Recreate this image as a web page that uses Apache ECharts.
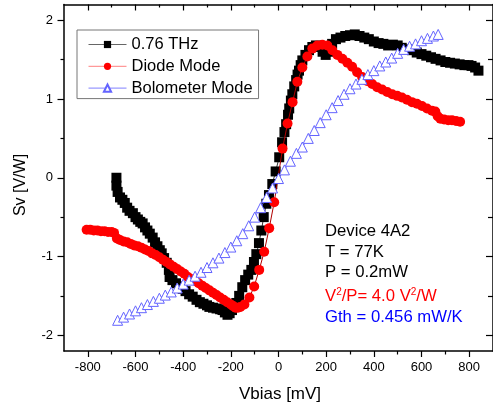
<!DOCTYPE html>
<html><head><meta charset="utf-8">
<script src="https://cdn.jsdelivr.net/npm/echarts@6/dist/echarts.min.js"></script>
<style>html,body{margin:0;padding:0;background:#fff}#c{width:493px;height:409px}</style>
</head><body><div id="c"></div>
<script>
const thzX = [-680,-680,-675,-665,-655,-645,-635,-625,-611,-600,-590,-580,-570,-560,-550,-540,-528,-518,-508,-498,-490,-480,-469,-460,-457,-445,-430,-415,-402,-390,-375,-360,-344,-330,-315,-300,-290,-275,-260,-245,-235,-225,-214,-205,-195,-185,-177,-165,-152,-140,-127,-114,-103,-93,-82,-72,-62,-51,-40,-26,-12,3,15,25,32,40,45,52,58,66,74,80,86,93,100,113,128,142,157,170,185,198,210,225,241,260,280,300,320,340,360,379,400,420,440,460,480,500,517,540,560,580,600,620,640,659,680,700,720,740,760,780,797,810,825,839];
const thzY = [0.00,-0.10,-0.18,-0.25,-0.28,-0.32,-0.38,-0.42,-0.45,-0.50,-0.53,-0.56,-0.58,-0.63,-0.67,-0.71,-0.76,-0.82,-0.87,-0.92,-0.96,-1.02,-1.08,-1.17,-1.26,-1.30,-1.34,-1.38,-1.41,-1.44,-1.48,-1.51,-1.55,-1.58,-1.60,-1.62,-1.64,-1.65,-1.66,-1.67,-1.68,-1.71,-1.74,-1.72,-1.68,-1.63,-1.59,-1.50,-1.39,-1.30,-1.23,-1.17,-1.07,-0.97,-0.83,-0.67,-0.50,-0.33,-0.22,-0.08,0.08,0.26,0.45,0.58,0.68,0.80,0.88,0.98,1.06,1.16,1.24,1.31,1.36,1.43,1.49,1.56,1.62,1.66,1.68,1.66,1.60,1.56,1.60,1.70,1.76,1.78,1.80,1.81,1.82,1.80,1.78,1.76,1.73,1.71,1.70,1.68,1.69,1.68,1.65,1.63,1.62,1.59,1.57,1.55,1.53,1.51,1.49,1.47,1.46,1.45,1.44,1.43,1.43,1.42,1.40,1.36];

const diodeX = [-805,-790,-775,-760,-745,-730,-715,-700,-690,-678,-665,-650,-635,-620,-605,-590,-575,-560,-545,-530,-515,-500,-485,-470,-455,-440,-425,-410,-395,-380,-365,-350,-335,-320,-305,-290,-275,-260,-245,-230,-215,-200,-190,-180,-170,-160,-143,-122,-102,-81,-60,-39,-18,17,38,59,79,100,121,142,163,184,205,226,247,268,289,309,330,351,372,393,414,435,456,477,498,518,539,560,581,602,623,644,658,668,679,695,712,728,745,762];
const diodeY = [-0.66,-0.66,-0.67,-0.67,-0.68,-0.68,-0.69,-0.69,-0.70,-0.77,-0.79,-0.81,-0.82,-0.84,-0.86,-0.87,-0.89,-0.91,-0.93,-0.96,-0.98,-1.01,-1.04,-1.07,-1.10,-1.13,-1.16,-1.19,-1.22,-1.26,-1.29,-1.31,-1.34,-1.37,-1.40,-1.43,-1.46,-1.49,-1.52,-1.55,-1.58,-1.61,-1.63,-1.65,-1.65,-1.64,-1.61,-1.52,-1.38,-1.17,-0.94,-0.64,-0.31,0.37,0.69,0.96,1.22,1.40,1.54,1.64,1.68,1.69,1.68,1.62,1.56,1.51,1.46,1.41,1.34,1.28,1.23,1.19,1.15,1.12,1.09,1.06,1.04,1.02,0.99,0.96,0.94,0.91,0.88,0.85,0.84,0.78,0.75,0.74,0.73,0.73,0.72,0.71];

const boloX = [-675,-650,-625,-600,-575,-550,-525,-500,-475,-450,-425,-400,-375,-350,-325,-300,-275,-250,-225,-200,-175,-150,-125,-100,-75,-50,-25,0,25,50,75,100,125,150,175,200,225,250,275,300,325,350,375,400,425,450,475,500,525,550,575,600,625,650,670];
const boloY = [-1.81,-1.77,-1.73,-1.69,-1.65,-1.61,-1.57,-1.53,-1.49,-1.45,-1.40,-1.35,-1.30,-1.25,-1.20,-1.14,-1.08,-1.02,-0.95,-0.88,-0.80,-0.71,-0.61,-0.50,-0.38,-0.25,-0.13,-0.01,0.10,0.21,0.31,0.39,0.50,0.60,0.70,0.80,0.89,0.98,1.06,1.13,1.19,1.25,1.31,1.36,1.42,1.47,1.52,1.58,1.63,1.67,1.70,1.74,1.77,1.80,1.82];

const xMajor = [-800,-600,-400,-200,0,200,400,600,800];
const xMinor = [-700,-500,-300,-100,100,300,500,700];
const yMajor = [-2,-1,0,1,2];
const yMinor = [-1.5,-0.5,0.5,1.5];
const seriesNames = ['0.76 THz','Diode Mode','Bolometer Mode'];

const FONT = "'Liberation Sans', Arial, sans-serif";
const zip = (a,b) => a.map((v,i)=>[v,b[i]]);

function xAx(pos, vals, len, inside, line, labels){
  return {type:'value', min:-900, max:900, position:pos, gridIndex:0,
    axisLine:{show:line, onZero:false, lineStyle:{color:'#000', width:1.5}},
    axisTick:{show:true, inside:inside, length:len, customValues:vals, lineStyle:{color:'#000', width:1.2}},
    axisLabel:labels?{show:true, customValues:xMajor, margin:10, color:'#000', fontSize:13, fontFamily:FONT}:{show:false},
    splitLine:{show:false}};
}
function yAx(pos, vals, len, inside, line, labels){
  return {type:'value', min:-2.2, max:2.2, position:pos, gridIndex:0,
    axisLine:{show:line, onZero:false, lineStyle:{color:'#000', width:1.5}},
    axisTick:{show:true, inside:inside, length:len, customValues:vals, lineStyle:{color:'#000', width:1.2}},
    axisLabel:labels?{show:true, customValues:yMajor, margin:11, color:'#000', fontSize:13, fontFamily:FONT}:{show:false},
    splitLine:{show:false}};
}

const chart = echarts.init(document.getElementById('c'), null, {renderer:'canvas'});
chart.setOption({
  backgroundColor:'#fff',
  animation:false,
  grid:{left:64, top:4.5, width:431, height:346.5},
  xAxis:[xAx('bottom',xMajor,6,false,true,true), xAx('bottom',xMinor,3.5,false,false,false),
         xAx('top',xMajor,6,true,true,false), xAx('top',xMinor,3,true,false,false)],
  yAxis:[yAx('left',yMajor,6.5,false,true,true), yAx('left',yMinor,3.5,false,false,false),
         yAx('right',yMajor,7,true,true,false), yAx('right',yMinor,5,true,false,false)],
  legend:{
    left:77, top:30, orient:'vertical', borderColor:'#777', borderWidth:1,
    padding:[5.5,6,1.5,11], itemGap:3.8, itemWidth:38, itemHeight:9,
    textStyle:{fontSize:16.5, lineHeight:18, fontFamily:FONT, color:'#000'},
    data:[
      {name:seriesNames[0], lineStyle:{color:'#666', width:1}},
      {name:seriesNames[1], lineStyle:{color:'#ff8080', width:1}},
      {name:seriesNames[2], lineStyle:{color:'#8080ff', width:1}}
    ]
  },
  series:[
    {name:seriesNames[0], type:'line', data:zip(thzX,thzY), symbol:'rect', symbolSize:10, showAllSymbol:true,
     itemStyle:{color:'#000'}, lineStyle:{color:'#333', width:1}, z:2},
    {name:seriesNames[1], type:'line', data:zip(diodeX,diodeY), symbol:'circle', symbolSize:10, showAllSymbol:true,
     itemStyle:{color:'#ff0000'}, lineStyle:{color:'#b00000', width:1}, z:3},
    {name:seriesNames[2], type:'line', data:zip(boloX,boloY), symbol:'triangle', symbolSize:10, showAllSymbol:true,
     itemStyle:{color:'#fff', borderColor:'#6464ff', borderWidth:1}, lineStyle:{color:'#6464ff', width:0.8}, z:4}
  ],
  graphic:[
    {type:'text', x:21, y:185, rotation:Math.PI/2, style:{text:'Sv [V/W]', font:'16px '+FONT, fill:'#000', textAlign:'center', textVerticalAlign:'middle'}},
    {type:'text', x:280, y:394, style:{text:'Vbias [mV]', font:'17px '+FONT, fill:'#000', textAlign:'center', textVerticalAlign:'middle'}},
    {type:'text', x:325, y:231, style:{text:'Device 4A2', font:'16.7px '+FONT, fill:'#000', textVerticalAlign:'middle'}},
    {type:'text', x:325, y:252, style:{text:'T = 77K', font:'16.7px '+FONT, fill:'#000', textVerticalAlign:'middle'}},
    {type:'text', x:325, y:272.5, style:{text:'P = 0.2mW', font:'16.7px '+FONT, fill:'#000', textVerticalAlign:'middle'}},
    {type:'text', x:325, y:296, style:{rich:{
        n:{fill:'#ff0000', fontSize:16.7, fontFamily:FONT},
        s:{fill:'#ff0000', fontSize:10, fontFamily:FONT, padding:[0,0,8,0]}},
      text:'{n|V}{s|2}{n|/P= 4.0 V}{s|2}{n|/W}', textVerticalAlign:'middle'}},
    {type:'text', x:325, y:317, style:{text:'Gth = 0.456 mW/K', font:'16.7px '+FONT, fill:'#0000ff', textVerticalAlign:'middle'}}
  ]
});
</script></body></html>
